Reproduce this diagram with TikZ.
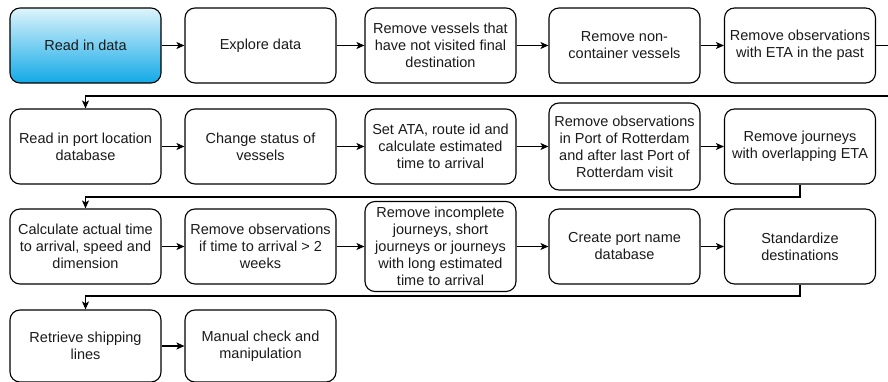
\documentclass[tikz,border=0pt]{standalone}
\usepackage{fontspec}
\setmainfont{Liberation Sans}
\usetikzlibrary{arrows.meta}
\definecolor{gradtop}{HTML}{DDF4FC}
\definecolor{gradbot}{HTML}{12A9E6}
\definecolor{ink}{HTML}{1A1A1A}
\begin{document}
\begin{tikzpicture}[x=1pt,y=-1pt,
  stepbox/.style={draw=black, line width=1.1pt, rounded corners=10pt,
    minimum width=151pt, minimum height=75pt, align=center, inner sep=2pt,
    text=ink, font=\fontsize{14.5}{17}\selectfont},
  startbox/.style={stepbox, top color=gradtop, bottom color=gradbot},
  flow/.style={draw=black, line width=1.1pt,
    -{Stealth[length=8pt,width=7pt,inset=2pt]}}]
\useasboundingbox (0,0) rectangle (888,382);

% row 1
\node[startbox] (r1c1) at (85.5,45.5) {Read in data};
\node[stepbox] (r1c2) at (260.5,45.5) {Explore data};
\node[stepbox] (r1c3) at (440.5,45.5) {Remove vessels that\\have not visited final\\destination};
\node[stepbox] (r1c4) at (624.5,45.5) {Remove non-\\container vessels};
\node[stepbox] (r1c5) at (800,45.5) {Remove observations\\with ETA in the past};

% row 2
\node[stepbox] (r2c1) at (85.5,146.5) {Read in port location\\database};
\node[stepbox] (r2c2) at (260.5,146.5) {Change status of\\vessels};
\node[stepbox] (r2c3) at (440.5,146.5) {Set ATA, route id and\\calculate estimated\\time to arrival};
\node[stepbox, minimum height=87pt] (r2c4) at (624.5,146.5) {Remove observations\\in Port of Rotterdam\\and after last Port of\\Rotterdam visit};
\node[stepbox] (r2c5) at (800,146.5) {Remove journeys\\with overlapping ETA};

% row 3
\node[stepbox] (r3c1) at (85.5,246.5) {Calculate actual time\\to arrival, speed and\\dimension};
\node[stepbox] (r3c2) at (260.5,246.5) {Remove observations\\if time to arrival > 2\\weeks};
\node[stepbox, minimum height=90pt] (r3c3) at (440.5,246.5) {Remove incomplete\\journeys, short\\journeys or journeys\\with long estimated\\time to arrival};
\node[stepbox] (r3c4) at (624.5,246.5) {Create port name\\database};
\node[stepbox] (r3c5) at (800,246.5) {Standardize\\destinations};

% row 4
\node[stepbox, minimum height=72pt] (r4c1) at (85.5,346) {Retrieve shipping\\lines};
\node[stepbox, minimum height=72pt] (r4c2) at (260.5,346) {Manual check and\\manipulation};

% arrows within rows
\foreach \r/\n in {1/5,2/5,3/5,4/2}{
  \foreach \c [evaluate=\c as \d using int(\c+1)] in {1,...,4}{
    \ifnum\c<\n
      \draw[flow] (r\r c\c.east) -- (r\r c\d.west);
    \fi
  }
}

% wrap-around connectors between rows
\coordinate (t1) at (894,96);
\coordinate (t2) at (800,197);
\coordinate (t3) at (800,296);
\draw[flow] (r1c5.east) -| (t1) -| (r2c1.north);
\draw[flow] (r2c5.south) -- (t2) -| (r3c1.north);
\draw[flow] (r3c5.south) -- (t3) -| (r4c1.north);
\end{tikzpicture}
\end{document}
